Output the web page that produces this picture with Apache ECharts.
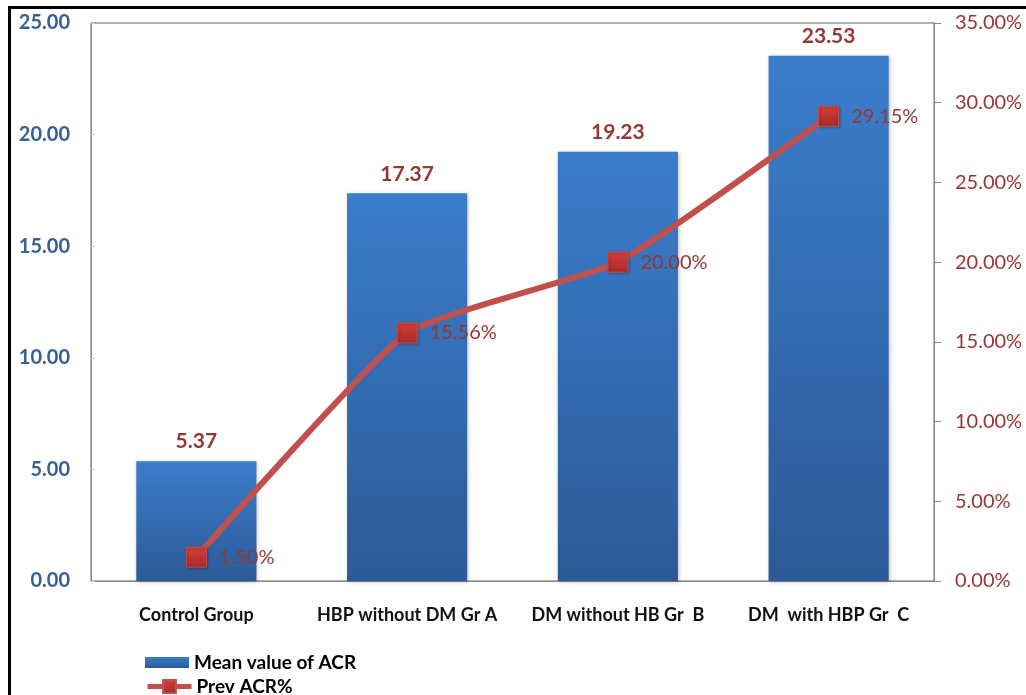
<!DOCTYPE html>
<html>
<head>
<meta charset="utf-8">
<script src="https://cdn.jsdelivr.net/npm/echarts@6/dist/echarts.min.js"></script>
<style>
  html, body { margin: 0; padding: 0; background: #fff; }
  #frame { position: absolute; left: 8px; top: 6px; right: 0; bottom: 0;
           border-top: 3px solid #000; border-left: 3px solid #000; }
  #chart { position: absolute; left: 0; top: 0; width: 1026px; height: 695px; }
</style>
</head>
<body>
<div id="frame"></div>
<div id="chart"></div>
<script>
const categories = ['Control Group', 'HBP without DM Gr A', 'DM without HB Gr  B', 'DM  with HBP Gr  C'];
const meanACR = [5.37, 17.37, 19.23, 23.53];
const prevACR = [1.50, 15.56, 20.00, 29.15];
const leftTicks = { min: 0, max: 25, interval: 5 };
const rightTicks = { min: 0, max: 35, interval: 5 };

const font = 'Lato, "Open Sans", sans-serif';
const chart = echarts.init(document.getElementById('chart'), null, { renderer: 'canvas' });

const legendText = { fontSize: 19, color: '#000', fontWeight: 'bold', fontFamily: font };

chart.setOption({
  backgroundColor: 'transparent',
  animation: false,
  textStyle: { fontFamily: font },
  grid: { left: 91, right: 92, top: 23, bottom: 114, show: true, borderColor: '#666', borderWidth: 1 },
  legend: [
    {
      left: 140, top: 648, itemWidth: 44, itemHeight: 11, itemGap: 6,
      textStyle: legendText,
      data: [{ name: 'Mean value of ACR', icon: 'rect' }]
    },
    {
      left: 140, top: 672, itemWidth: 44, itemHeight: 16, itemGap: 6,
      textStyle: legendText,
      lineStyle: { width: 5, color: '#c0504d' },
      data: [{ name: 'Prev ACR%' }]
    }
  ],
  xAxis: {
    type: 'category', data: categories,
    axisLine: { lineStyle: { color: '#888' } },
    axisTick: { show: false },
    axisLabel: { interval: 0, color: '#111', fontSize: 18, fontWeight: 'bold', margin: 25, fontFamily: font }
  },
  yAxis: [
    {
      type: 'value', min: leftTicks.min, max: leftTicks.max, interval: leftTicks.interval,
      splitLine: { show: false },
      axisLine: { show: true, lineStyle: { color: '#888' } },
      axisTick: { show: true, inside: true, length: 4, lineStyle: { color: '#ccc' } },
      axisLabel: { color: '#376092', fontSize: 20, fontWeight: 'bold', margin: 21,
                   formatter: v => v.toFixed(2) }
    },
    {
      type: 'value', min: rightTicks.min, max: rightTicks.max, interval: rightTicks.interval,
      position: 'right',
      splitLine: { show: false },
      axisLine: { show: true, lineStyle: { color: '#888' } },
      axisTick: { show: true, length: 7, lineStyle: { color: '#888' } },
      axisLabel: { color: '#953735', fontSize: 20, margin: 21,
                   formatter: v => v.toFixed(2) + '%' }
    }
  ],
  series: [
    {
      name: 'Mean value of ACR', type: 'bar', data: meanACR, barWidth: '57%',
      itemStyle: {
        color: new echarts.graphic.LinearGradient(0, 0, 0, 1, [
          { offset: 0, color: '#3b7dcb' },
          { offset: 1, color: '#2c5a97' }
        ]),
        shadowColor: 'rgba(0,0,0,0.25)', shadowBlur: 4, shadowOffsetX: 1, shadowOffsetY: 1
      },
      label: { show: true, position: 'top', distance: 9, color: '#953735', fontSize: 21, fontWeight: 'bold',
               formatter: p => p.value.toFixed(2) }
    },
    {
      name: 'Prev ACR%', type: 'line', yAxisIndex: 1, data: prevACR, smooth: 0.15,
      symbol: 'rect', symbolSize: 20,
      lineStyle: { color: '#c0504d', width: 6 },
      itemStyle: {
        color: new echarts.graphic.LinearGradient(0, 0, 0, 1, [
          { offset: 0, color: '#d9403c' },
          { offset: 1, color: '#a52a28' }
        ]),
        borderColor: '#c0504d', borderWidth: 1,
        shadowColor: 'rgba(0,0,0,0.3)', shadowBlur: 3, shadowOffsetX: 1, shadowOffsetY: 1
      },
      label: { show: true, position: 'right', distance: 12, color: '#953735', fontSize: 20,
               formatter: p => p.value.toFixed(2) + '%' },
      z: 5
    }
  ]
});
</script>
</body>
</html>
